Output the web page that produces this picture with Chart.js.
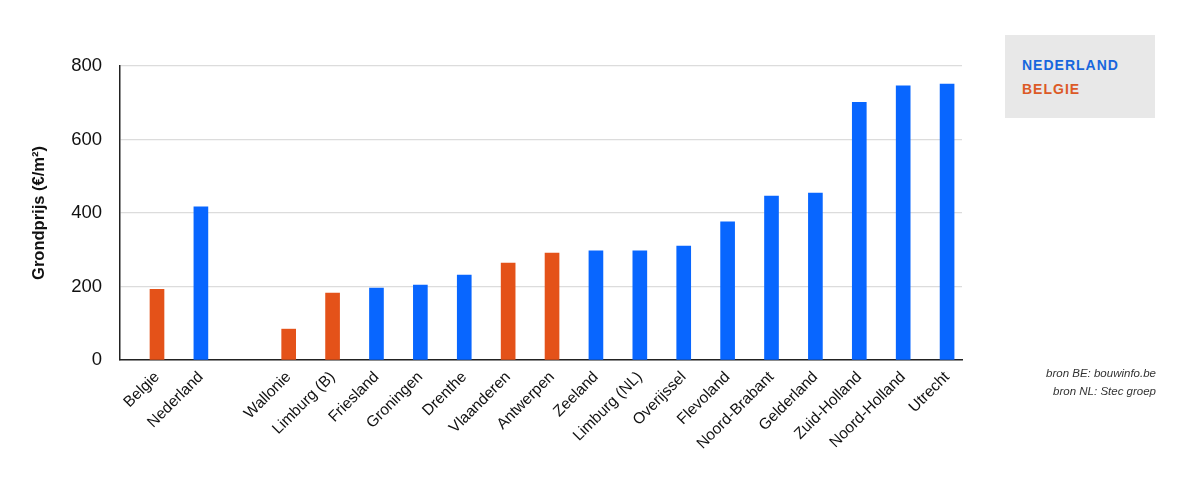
<!DOCTYPE html>
<html>
<head>
<meta charset="utf-8">
<script src="https://cdn.jsdelivr.net/npm/chart.js@4/dist/chart.umd.min.js"></script>
<style>
  html, body { margin: 0; padding: 0; background: #fff; }
  #wrap { position: relative; width: 1200px; height: 493px; }
  canvas { position: absolute; left: 0; top: 0; }
  #legend { position: absolute; left: 1005px; top: 35px; width: 150px; height: 83px; background: #e8e8e8;
    font-family: "Liberation Sans", Arial, sans-serif; font-weight: bold; font-size: 14px; letter-spacing: 1px; }
  #legend div { position: absolute; left: 17px; }
  #src { position: absolute; right: 44px; top: 364px; text-align: right; font-family: "Liberation Sans", Arial, sans-serif;
    font-style: italic; font-size: 11.5px; color: #333; line-height: 18px; }
</style>
</head>
<body>
<div id="wrap">
  <canvas id="c" width="1200" height="493"></canvas>
  <div id="legend"><div style="top:22px;color:#1766dd">NEDERLAND</div><div style="top:46px;color:#dc5a26">BELGIE</div></div>
  <div id="src">bron BE: bouwinfo.be<br>bron NL: Stec groep</div>
</div>
<script>
const categories = ["Belgie", "Nederland", "", "Wallonie", "Limburg (B)", "Friesland", "Groningen", "Drenthe",
  "Vlaanderen", "Antwerpen", "Zeeland", "Limburg (NL)", "Overijssel", "Flevoland", "Noord-Brabant",
  "Gelderland", "Zuid-Holland", "Noord-Holland", "Utrecht"];
const country = ["BE", "NL", "", "BE", "BE", "NL", "NL", "NL", "BE", "BE", "NL", "NL", "NL", "NL", "NL", "NL", "NL", "NL", "NL"];
const values = [192, 417, null, 84, 182, 196, 204, 231, 264, 291, 297, 297, 310, 376, 446, 454, 701, 746, 751];
const yTicks = [0, 200, 400, 600, 800];

const colorFor = { BE: "#e45219", NL: "#0866ff", "": "#ffffff" };
const points = values.map((v, i) => ({ x: i, y: v }));

new Chart(document.getElementById("c"), {
  type: "bar",
  data: {
    datasets: [{
      data: points,
      backgroundColor: country.map(c => colorFor[c]),
      barThickness: 14,
      borderWidth: 0
    }]
  },
  options: {
    responsive: false,
    animation: false,
    events: [],
    layout: { padding: { left: 30, right: 238, top: 66, bottom: 0 } },
    plugins: { legend: { display: false }, tooltip: { enabled: false } },
    scales: {
      x: {
        type: "linear",
        offset: false,
        min: -0.843,
        max: 18.34,
        grid: { display: false, drawTicks: false, offset: false },
        border: { color: "#222", width: 1.5 },
        afterBuildTicks: (s) => { s.ticks = categories.map((_, i) => ({ value: i })); },
        afterFit: (s) => { s.height = 133; },
        ticks: {
          autoSkip: false,
          includeBounds: false,
          maxRotation: 45,
          minRotation: 45,
          padding: 8,
          color: "#111",
          font: { family: "'Liberation Sans', Arial, sans-serif", size: 15.5 },
          callback: (v) => categories[v] ?? ""
        }
      },
      y: {
        min: 0,
        max: 800,
        afterBuildTicks: (s) => { s.ticks = yTicks.map(v => ({ value: v })); },
        afterFit: (s) => { s.width = 90; },
        grid: { color: "#dcdcdc", lineWidth: 1.2, drawTicks: false },
        border: { color: "#222", width: 1.5 },
        ticks: {
          padding: 18,
          color: "#111",
          font: { family: "'Liberation Sans', Arial, sans-serif", size: 18.5 }
        },
        title: {
          display: true,
          text: "Grondprijs (€/m²)",
          color: "#111",
          padding: { top: 0, bottom: 0 },
          font: { family: "'Liberation Sans', Arial, sans-serif", size: 16.5, weight: "bold" }
        }
      }
    }
  }
});
</script>
</body>
</html>
